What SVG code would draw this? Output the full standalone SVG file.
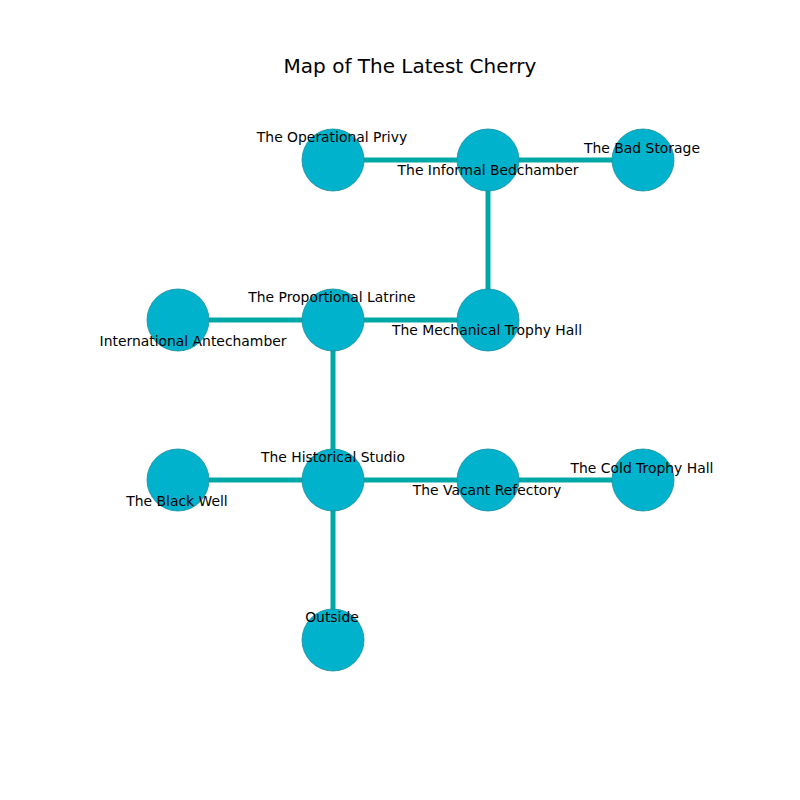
<svg xmlns="http://www.w3.org/2000/svg" width="800" height="800" viewBox="0 0 800 800">
<style>
.n{fill:#00b2cb;stroke:#1a8ea0;stroke-width:0.8}
.e{stroke:#00a8a8;stroke-width:5;fill:none}
text{font-family:"DejaVu Sans",sans-serif;font-size:13.9px;fill:#000;text-anchor:middle;dominant-baseline:central}
.t{font-size:20px}
</style>
<rect width="800" height="800" fill="#fff"/>
<text class="t" x="410" y="66">Map of The Latest Cherry</text>
<g id="connectors">
<line class="e" x1="333" y1="160" x2="488" y2="160"/>
<line class="e" x1="488" y1="160" x2="643" y2="160"/>
<line class="e" x1="488" y1="160" x2="488" y2="320"/>
<line class="e" x1="178" y1="320" x2="333" y2="320"/>
<line class="e" x1="333" y1="320" x2="488" y2="320"/>
<line class="e" x1="333" y1="320" x2="333" y2="480"/>
<line class="e" x1="178" y1="480" x2="333" y2="480"/>
<line class="e" x1="333" y1="480" x2="488" y2="480"/>
<line class="e" x1="488" y1="480" x2="643" y2="480"/>
<line class="e" x1="333" y1="480" x2="333" y2="640"/>
</g>
<g id="privy"><circle class="n" cx="333" cy="160" r="31"/><text x="332" y="137">The Operational Privy</text></g>
<g id="bedchamber"><circle class="n" cx="488" cy="160" r="31"/><text x="488" y="170">The Informal Bedchamber</text></g>
<g id="badstorage"><circle class="n" cx="643" cy="160" r="31"/><text x="642" y="148">The Bad Storage</text></g>
<g id="antechamber"><circle class="n" cx="178" cy="320" r="31"/><text x="193" y="341">International Antechamber</text></g>
<g id="latrine"><circle class="n" cx="333" cy="320" r="31"/><text x="332" y="297">The Proportional Latrine</text></g>
<g id="mechtrophy"><circle class="n" cx="488" cy="320" r="31"/><text x="487" y="330">The Mechanical Trophy Hall</text></g>
<g id="blackwell"><circle class="n" cx="178" cy="480" r="31"/><text x="177" y="501">The Black Well</text></g>
<g id="historical"><circle class="n" cx="333" cy="480" r="31"/><text x="333" y="457">The Historical Studio</text></g>
<g id="vacant"><circle class="n" cx="488" cy="480" r="31"/><text x="487" y="490">The Vacant Refectory</text></g>
<g id="coldtrophy"><circle class="n" cx="643" cy="480" r="31"/><text x="642" y="468">The Cold Trophy Hall</text></g>
<g id="outside"><circle class="n" cx="333" cy="640" r="31"/><text x="332" y="617">Outside</text></g>
</svg>
